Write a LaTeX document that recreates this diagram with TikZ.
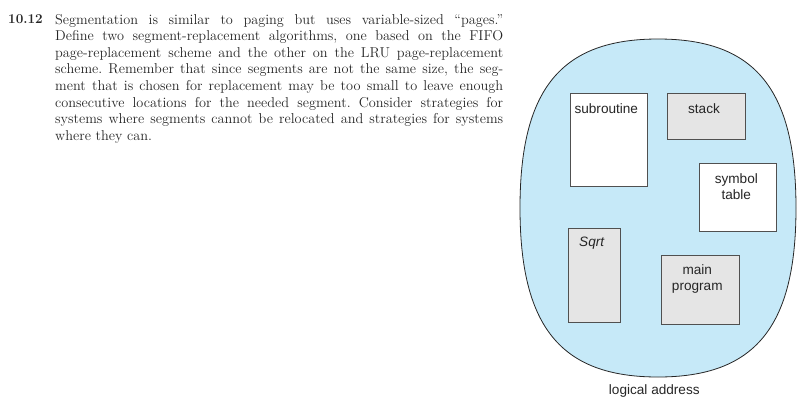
\documentclass[tikz,border=0pt]{standalone}
\usepackage{fontspec}
\newfontfamily\diagfont{Liberation Sans}
\definecolor{ovalblue}{RGB}{198,233,248}
\definecolor{boxgray}{RGB}{229,229,229}
\definecolor{edgegray}{RGB}{80,80,80}
\begin{document}
\begin{tikzpicture}[x=1pt,y=-1pt,
  seg/.style={draw=edgegray,line width=0.9pt,rectangle,inner sep=0pt},
  whiteseg/.style={seg,fill=white},
  grayseg/.style={seg,fill=boxgray},
  lbl/.style={font=\diagfont\fontsize{13.6}{15.7}\selectfont,align=center,inner sep=0pt,text=black!85},
  body/.style={font=\fontsize{14.3}{16.57}\selectfont,inner sep=0pt,text=black!85}]
\useasboundingbox (0,0) rectangle (804,405);
% exercise text
\node[body,anchor=north west,font=\bfseries\fontsize{13.5}{16.57}\selectfont] (num) at (8,14.5) {10.12};
\node[body,anchor=north west,text width=448pt,align=justify] (ex) at (55,14)
{\frenchspacing Segmentation is similar to paging but uses variable-sized “pages.”\linebreak
Define two segment-replacement algorithms, one based on the FIFO\linebreak
page-replacement scheme and the other on the LRU page-replacement\linebreak
scheme. Remember that since segments are not the same size, the seg-\linebreak
ment that is chosen for replacement may be too small to leave enough\linebreak
consecutive locations for the needed segment. Consider strategies for\linebreak
systems where segments cannot be relocated and strategies for systems\linebreak
where they can.};
% logical address space
\draw[fill=ovalblue,draw=black!85,line width=0.8pt]
  (658,39) .. controls (755,39) and (796,89) .. (796,208)
  .. controls (796,327) and (755,377) .. (658,377)
  .. controls (561,377) and (520,327) .. (520,208)
  .. controls (520,89) and (561,39) .. (658,39) -- cycle;
\node[whiteseg,minimum width=77pt,minimum height=93.4pt] (sub) at (609.2,140) {};
\node[grayseg,minimum width=78.4pt,minimum height=45.7pt] (stk) at (706.5,116.2) {};
\node[whiteseg,minimum width=77pt,minimum height=67.3pt] (sym) at (737.8,197.3) {};
\node[grayseg,minimum width=52.3pt,minimum height=93.7pt] (sqr) at (594.2,275.2) {};
\node[grayseg,minimum width=77.3pt,minimum height=68.6pt] (mainp) at (700.3,290) {};
\node[lbl] (subl) at (606.3,108.3) {subroutine};
\node[lbl] (stkl) at (704,108.3) {stack};
\node[lbl] (syml) at (736.3,186.7) {symbol\\table};
\node[lbl,font=\diagfont\itshape\fontsize{13.6}{15.7}\selectfont] (sqrl) at (591.7,243.3) {Sqrt};
\node[lbl] (mainl) at (697.3,279) {main\\program};
\node[lbl] (la) at (654.3,390.7) {logical address};
\end{tikzpicture}
\end{document}
